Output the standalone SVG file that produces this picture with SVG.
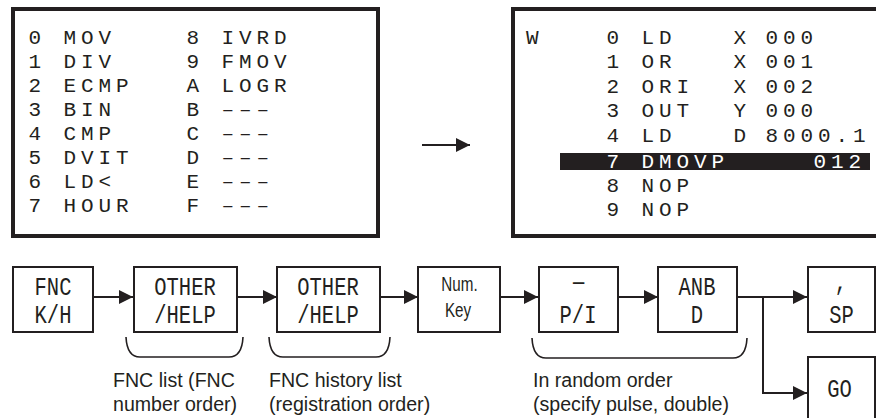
<svg xmlns="http://www.w3.org/2000/svg" width="876" height="418" viewBox="0 0 876 418">
<defs>
<style>
.scr{fill:none;stroke:#231f20;stroke-width:4}
.key{fill:#fff;stroke:#231f20;stroke-width:2}
.ln{fill:none;stroke:#231f20;stroke-width:2}
.br{fill:none;stroke:#231f20;stroke-width:1.6}
.lcd{font-family:"Liberation Mono",monospace;font-size:21px;letter-spacing:4.9px;fill:#231f20}
.kt{font-family:"Liberation Mono",monospace;font-size:25px;fill:#231f20;text-anchor:middle}
.ks{font-family:"Liberation Sans",Arial,sans-serif;font-size:19.5px;fill:#231f20;text-anchor:middle}
.cap{font-family:"Liberation Sans",Arial,sans-serif;font-size:19.6px;fill:#231f20}
</style>
<marker id="ah" markerUnits="userSpaceOnUse" markerWidth="14" markerHeight="14" viewBox="0 0 13 13" refX="13" refY="6.5" orient="auto">
<path d="M0,0 L13,6.5 L0,13 Z" fill="#231f20"/>
</marker>
</defs>
<rect width="876" height="418" fill="#fff"/>

<g id="screen-fnc-list">
<rect class="scr" x="13" y="9" width="365" height="227"/>
<g class="lcd">
<text x="28.5" y="43.5">0 MOV</text>
<text x="28.5" y="67.5">1 DIV</text>
<text x="28.5" y="91.5">2 ECMP</text>
<text x="28.5" y="115.5">3 BIN</text>
<text x="28.5" y="139.5">4 CMP</text>
<text x="28.5" y="163.5">5 DVIT</text>
<text x="28.5" y="187.5">6 LD&lt;</text>
<text x="28.5" y="211.5">7 HOUR</text>
<text x="186.5" y="43.5">8 IVRD</text>
<text x="186.5" y="67.5">9 FMOV</text>
<text x="186.5" y="91.5">A LOGR</text>
<text x="186.5" y="115.5">B –––</text>
<text x="186.5" y="139.5">C –––</text>
<text x="186.5" y="163.5">D –––</text>
<text x="186.5" y="187.5">E –––</text>
<text x="186.5" y="211.5">F –––</text>
</g>
</g>

<g id="screen-program">
<rect class="scr" x="513" y="9" width="366" height="227"/>
<rect x="560" y="153" width="310" height="17" fill="#231f20"/>
<g class="lcd">
<text x="526" y="43.5">W</text>
<text x="606.5" y="43.5">0 LD</text><text x="733.5" y="43.5">X</text><text x="765.5" y="43.5">000</text>
<text x="606.5" y="68">1 OR</text><text x="733.5" y="68">X</text><text x="765.5" y="68">001</text>
<text x="606.5" y="92.5">2 ORI</text><text x="733.5" y="92.5">X</text><text x="765.5" y="92.5">002</text>
<text x="606.5" y="117">3 OUT</text><text x="733.5" y="117">Y</text><text x="765.5" y="117">000</text>
<text x="606.5" y="142">4 LD</text><text x="733.5" y="142">D</text><text x="765.5" y="142">8000.1</text>
<text x="606.5" y="167.5" fill="#fff">7 DMOVP</text><text x="813.5" y="167.5" fill="#fff">012</text>
<text x="606.5" y="192">8 NOP</text>
<text x="606.5" y="216">9 NOP</text>
</g>
</g>

<g id="key-fnc">
<rect class="key" x="13" y="267" width="80" height="65"/>
<text class="kt" transform="translate(53 295) scale(0.82 1)">FNC</text>
<text class="kt" transform="translate(53 323) scale(0.82 1)">K/H</text>
</g>
<g id="key-other1">
<rect class="key" x="134" y="267" width="103" height="65"/>
<text class="kt" transform="translate(185 295) scale(0.82 1)">OTHER</text>
<text class="kt" transform="translate(185 323) scale(0.82 1)">/HELP</text>
</g>
<g id="key-other2">
<rect class="key" x="277" y="267" width="103" height="65"/>
<text class="kt" transform="translate(328 295) scale(0.82 1)">OTHER</text>
<text class="kt" transform="translate(328 323) scale(0.82 1)">/HELP</text>
</g>
<g id="key-num">
<rect class="key" x="418" y="267" width="82" height="65"/>
<text class="ks" transform="translate(459.5 291) scale(0.78 1)">Num.</text>
<text class="ks" transform="translate(458 317) scale(0.78 1)">Key</text>
</g>
<g id="key-pi">
<rect class="key" x="539" y="267" width="79" height="65"/>
<text class="kt" transform="translate(578.5 290) scale(0.75 1)">—</text>
<text class="kt" transform="translate(578 323) scale(0.82 1)">P/I</text>
</g>
<g id="key-anbd">
<rect class="key" x="658" y="267" width="79" height="65"/>
<text class="kt" transform="translate(697 295) scale(0.82 1)">ANB</text>
<text class="kt" transform="translate(697 323) scale(0.82 1)">D</text>
</g>
<g id="key-sp">
<rect class="key" x="808" y="267" width="67" height="65"/>
<text class="kt" transform="translate(841 290) scale(0.82 1)">,</text>
<text class="kt" transform="translate(841.5 323) scale(0.82 1)">SP</text>
</g>
<g id="key-go">
<rect class="key" x="808" y="357" width="67" height="75"/>
<text class="kt" transform="translate(839.5 397) scale(0.82 1)">GO</text>
</g>

<g id="connectors">
<line class="ln" x1="422" y1="145" x2="470" y2="145" stroke-width="2.5" marker-end="url(#ah)"/>
<line class="ln" x1="93" y1="297" x2="133" y2="297" marker-end="url(#ah)"/>
<line class="ln" x1="237" y1="297" x2="277" y2="297" marker-end="url(#ah)"/>
<line class="ln" x1="380" y1="297" x2="418" y2="297" marker-end="url(#ah)"/>
<line class="ln" x1="500" y1="297" x2="538" y2="297" marker-end="url(#ah)"/>
<line class="ln" x1="618" y1="297" x2="658" y2="297" marker-end="url(#ah)"/>
<line class="ln" x1="737" y1="297" x2="807" y2="297" marker-end="url(#ah)"/>
<polyline class="ln" points="763,297 763,393 807,393" marker-end="url(#ah)"/>
</g>

<g id="annotations">
<path class="br" d="M126,337 Q127,357 140,357 H229 Q242,357 243,337"/>
<path class="br" d="M269,337 Q270,357 283,357 H376 Q389,357 390,337"/>
<path class="br" d="M532,338 Q533,358 546,358 H733 Q746,358 747,338"/>
<text class="cap" x="113" y="387">FNC list (FNC</text>
<text class="cap" x="113" y="411">number order)</text>
<text class="cap" x="269" y="387">FNC history list</text>
<text class="cap" x="269" y="411">(registration order)</text>
<text class="cap" x="533" y="387">In random order</text>
<text class="cap" x="533" y="411">(specify pulse, double)</text>
</g>
</svg>
